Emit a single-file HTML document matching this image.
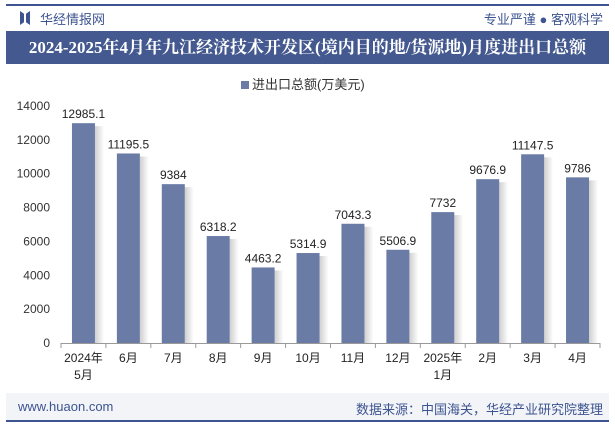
<!DOCTYPE html>
<html><head><meta charset="utf-8"><style>
body{margin:0;width:615px;height:427px;background:#fff;font-family:"Liberation Sans","Noto Sans CJK SC",sans-serif;overflow:hidden;position:relative}
.abs{position:absolute}
</style></head><body>
<div class="abs" style="left:6px;top:4px;width:603px;height:2px;background:#3d5490"></div>
<div class="abs" style="left:20px;top:11px;width:10px;height:14px;background:#3d5490;clip-path:polygon(0 0,40% 20%,40% 80%,0 100%,0 0,100% 0,100% 100%,60% 80%,60% 20%,100% 0)"></div>
<div class="abs" style="left:40px;top:9px;font-size:13px;color:#3d5490">华经情报网</div>
<div class="abs" style="right:12px;top:9px;font-size:13px;color:#3d5490">专业严谨 ● 客观科学</div>
<div class="abs" style="left:6px;top:31px;width:603px;height:33px;background:#44598f;color:#fff;font-size:17px;font-weight:bold;line-height:33px;text-align:center;font-family:'Liberation Serif','Noto Serif CJK SC',serif">2024-2025年4月年九江经济技术开发区(境内目的地/货源地)月度进出口总额</div>
<div class="abs" style="left:241px;top:74px;font-size:13px;color:#333"><span style="display:inline-block;width:8px;height:8px;background:#6a7ba6;margin-right:3px"></span>进出口总额(万美元)</div>
<svg class="abs" style="left:0;top:0" width="615" height="427" id="chart"><defs><linearGradient id="sh" x1="0" x2="1" y1="0" y2="0"><stop offset="0" stop-color="#cfcfcf"/><stop offset="1" stop-color="#ffffff"/></linearGradient></defs></svg>
<div class="abs" style="left:6px;top:393px;width:603px;height:27px;background:#f2f4f8"></div>
<div class="abs" style="left:18px;top:399px;font-size:13px;color:#3d5490">www.huaon.com</div>
<div class="abs" style="right:12px;top:399px;font-size:13px;color:#3d5490">数据来源：中国海关，华经产业研究院整理</div>
<div class="abs" style="left:6px;top:420px;width:603px;height:2px;background:#3d5490"></div>
<script>
const categories=["2024年\n5月","6月","7月","8月","9月","10月","11月","12月","2025年\n1月","2月","3月","4月"];
const values=[12985.1,11195.5,9384,6318.2,4463.2,5314.9,7043.3,5506.9,7732,9676.9,11147.5,9786];
const labels=["12985.1","11195.5","9384","6318.2","4463.2","5314.9","7043.3","5506.9","7732","9676.9","11147.5","9786"];
const yTicks=[0,2000,4000,6000,8000,10000,12000,14000];
const svg=document.getElementById('chart');const NS='http://www.w3.org/2000/svg';
const x0=61,x1=600,y0=343,yTop=106,yMax=14000;
const slot=(x1-x0)/categories.length;
const ys=v=>y0-(v/yMax)*(y0-yTop);
const xc=i=>x0+slot*(i+0.5);
function mk(t,a,txt){const e=document.createElementNS(NS,t);for(const k in a)e.setAttribute(k,a[k]);if(txt!=null)e.textContent=txt;svg.appendChild(e);return e;}
yTicks.forEach(t=>{const e=mk('text',{x:x0-11,y:ys(t)+4,'text-anchor':'end','font-size':12,fill:'#333'},t);

});
const ax=mk('line',{x1:x0,x2:x1,y1:y0+0.5,y2:y0+0.5,stroke:'#999'});


for(let i=0;i<=categories.length;i++){const t=mk('line',{x1:x0+slot*i,x2:x0+slot*i,y1:y0,y2:y0+5,stroke:'#999'});

}
values.forEach((v,i)=>{const bx=xc(i)-11.5,by=ys(v);
const s=mk('rect',{x:bx+23,y:by+3,width:9,height:y0-by-3,fill:'url(#sh)'});


const r=mk('rect',{x:bx,y:by,width:23,height:y0-by,fill:'#6a7ba6'});


const l=mk('text',{x:xc(i),y:by-5,'text-anchor':'middle','font-size':12,fill:'#222'},labels[i]);


categories[i].split('\n').forEach((ln,j)=>{const c=mk('text',{x:xc(i),y:y0+19+j*17,'text-anchor':'middle','font-size':12,fill:'#222'},ln);

});});
</script>
</body></html>
